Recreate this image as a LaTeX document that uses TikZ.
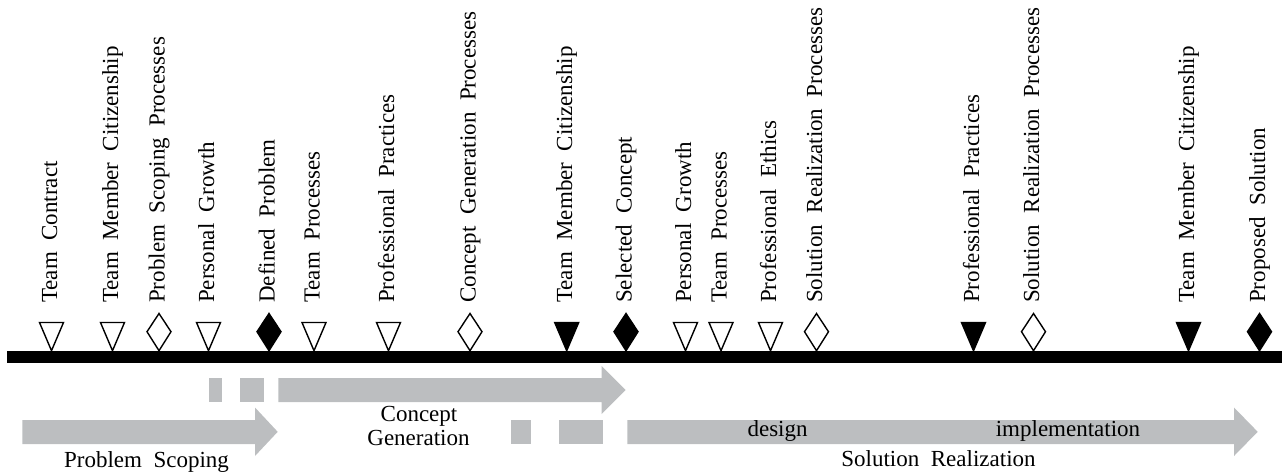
\documentclass[tikz,border=0pt]{standalone}
\usepackage{fontspec}
\setmainfont{Liberation Serif}[WordSpace=2]
\definecolor{arrgray}{HTML}{BCBEC0}
\begin{document}
\begin{tikzpicture}[x=1pt,y=-1pt,
  mk/.style={draw=black,line width=1.4pt,line join=miter},
  lbl/.style={rotate=90,anchor=base west,inner sep=0pt,font=\fontsize{23}{27}\selectfont},
  txt/.style={anchor=base,inner sep=0pt,font=\fontsize{23}{27}\selectfont},
  band/.style={fill=arrgray,draw=none}]
\useasboundingbox (0,0) rectangle (1282,474);
% timeline bar
\fill[black] (6.7,350.7) rectangle (1282,362.7);
% markers and labels
\foreach \x/\k/\t [count=\i] in {
  51.5/tw/Team Contract,
  112.5/tw/Team Member Citizenship,
  159/dw/Problem Scoping Processes,
  208.5/tw/Personal Growth,
  269/db/Defined Problem,
  314/tw/Team Processes,
  388.5/tw/Professional Practices,
  470/dw/Concept Generation Processes,
  566.7/tb/Team Member Citizenship,
  626/db/Selected Concept,
  685.5/tw/Personal Growth,
  721/tw/Team Processes,
  770.5/tw/Professional Ethics,
  816.5/dw/Solution Realization Processes,
  973.5/tb/Professional Practices,
  1033.5/dw/Solution Realization Processes,
  1188.5/tb/Team Member Citizenship,
  1259.5/db/Proposed Solution}{
  \coordinate (m\i) at (\x,350.7);
  \ifnum\pdfstrcmp{\k}{tw}=0
    \draw[mk,fill=white] (\x-12,322.5) -- (\x+12,322.5) -- (m\i) -- cycle;
  \fi
  \ifnum\pdfstrcmp{\k}{tb}=0
    \draw[mk,fill=black] (\x-12,322.5) -- (\x+12,322.5) -- (m\i) -- cycle;
  \fi
  \ifnum\pdfstrcmp{\k}{dw}=0
    \draw[mk,fill=white] (\x,313.5) -- (\x+12,331.7) -- (m\i) -- (\x-12,331.7) -- cycle;
  \fi
  \ifnum\pdfstrcmp{\k}{db}=0
    \draw[mk,fill=black] (\x,313.5) -- (\x+12,331.7) -- (m\i) -- (\x-12,331.7) -- cycle;
  \fi
  \node[lbl] (l\i) at (\x+5.5,303) {\t};
}
% Problem Scoping arrow
\fill[band] (22.3,420) -- (255,420) -- (255,407.5) -- (277.7,431.8) -- (255,456) -- (255,444) -- (22.3,444) -- cycle;
% Concept Generation arrow with lead-in dashes
\fill[band] (209,378) rectangle (222.3,402);
\fill[band] (240,378) rectangle (264,402);
\fill[band] (278.3,378) -- (601.7,378) -- (601.7,366) -- (625.7,390) -- (601.7,414) -- (601.7,402) -- (278.3,402) -- cycle;
% Solution Realization arrow with lead-in dashes
\fill[band] (511,420) rectangle (531,444);
\fill[band] (559,420) rectangle (603.3,444);
\fill[band] (627.3,420) -- (1234,420) -- (1234,407.5) -- (1257.7,431.8) -- (1234,456) -- (1234,444) -- (627.3,444) -- cycle;
% phase texts
\node[txt] (ps) at (146.5,467) {Problem Scoping};
\node[txt] (cg1) at (419,421.7) {Concept};
\node[txt] (cg2) at (418.5,445) {Generation};
\node[txt] (des) at (777.6,436.7) {design};
\node[txt] (imp) at (1068,436.7) {implementation};
\node[txt] (sr) at (938.5,466.7) {Solution Realization};
\end{tikzpicture}
\end{document}
